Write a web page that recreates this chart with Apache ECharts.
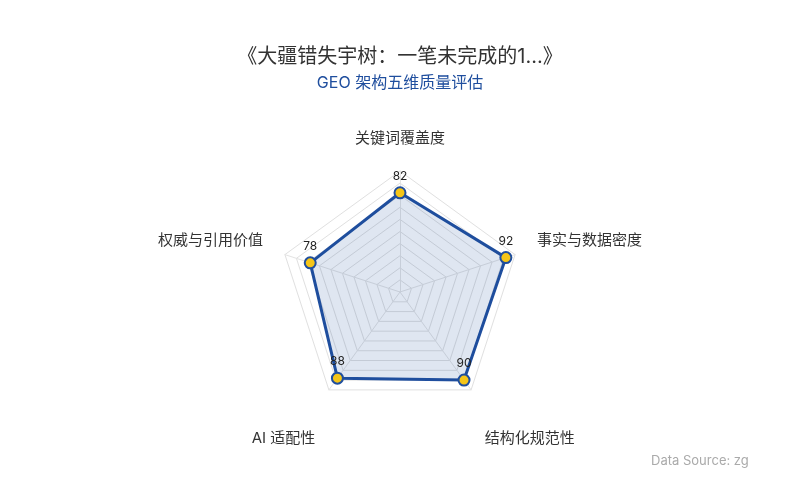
<!DOCTYPE html>
<html>
<head>
    <meta charset="UTF-8">
    <title></title>
    <style>
        html, body { margin: 0; padding: 0; background: #fff; }
        #container { width: 800px; height: 500px; }
    </style>
</head>
<body>
    <div id="container"></div>
    <script src="https://cdn.jsdelivr.net/npm/echarts@6/dist/echarts.min.js"></script>
    <script>
        // 维度（逆时针顺序，从顶部开始）
        var dims = ['关键词覆盖度', '权威与引用价值', 'AI 适配性', '结构化规范性', '事实与数据密度'];
        var scores = [82, 78, 88, 90, 92];
        var maxScore = 100;

        var font = 'Inter, "Noto Sans CJK SC", sans-serif';
        var blue = '#1f4e9e';
        var nameStyle = { color: '#333', fontSize: 15, fontFamily: font, lineHeight: 20 };

        var myChart = echarts.init(document.getElementById('container'));
        myChart.setOption({
            backgroundColor: '#fff',
            title: {
                text: '《大疆错失宇树：一笔未完成的1...》',
                subtext: 'GEO 架构五维质量评估',
                left: 'center',
                top: 42,
                itemGap: 8,
                textStyle: { fontSize: 20, fontWeight: 'normal', color: '#333', fontFamily: font },
                subtextStyle: { fontSize: 16, color: blue, fontFamily: font }
            },
            graphic: [{
                type: 'text',
                left: 651,
                top: 455,
                style: {
                    text: 'Data Source: zgeo',
                    width: 100,
                    overflow: 'truncate',
                    ellipsis: '',
                    fill: '#aaa',
                    fontSize: 13,
                    fontFamily: font
                }
            }],
            radar: {
                center: [400, 292],
                radius: 121,
                startAngle: 90,
                splitNumber: 10,
                indicator: dims.map(function (d) { return { name: d, max: maxScore }; }),
                axisName: {
                    color: '#333', fontSize: 15, fontFamily: font, lineHeight: 20,
                    // 名称是居中对齐的：底部两个往下推，两侧往上推
                    formatter: function (name) {
                        var i = dims.indexOf(name);
                        if (i === 2 || i === 3) return '{padLow| }\n{n|' + name + '}';
                        if (i === 1 || i === 4) return '{n|' + name + '}\n{padSide| }';
                        return '{n|' + name + '}';
                    },
                    rich: {
                        n: nameStyle,
                        padLow: { lineHeight: 59, fontSize: 1 },
                        padSide: { lineHeight: 15, fontSize: 1 }
                    }
                },
                nameGap: 23,
                axisLine: { lineStyle: { color: '#e3e3e3' } },
                splitLine: { lineStyle: { color: '#e0e0e0', width: 1 } },
                splitArea: { show: false }
            },
            series: [{
                type: 'radar',
                symbol: 'circle',
                symbolSize: 11,
                data: [{
                    value: scores,
                    lineStyle: { color: blue, width: 3 },
                    itemStyle: { color: '#f5c518', borderColor: blue, borderWidth: 2 },
                    areaStyle: { color: 'rgba(31,78,158,0.2)' },
                    label: {
                        show: true,
                        color: '#222',
                        fontSize: 12,
                        fontFamily: font,
                        distance: 4
                    }
                }]
            }]
        });
    </script>
</body>
</html>
